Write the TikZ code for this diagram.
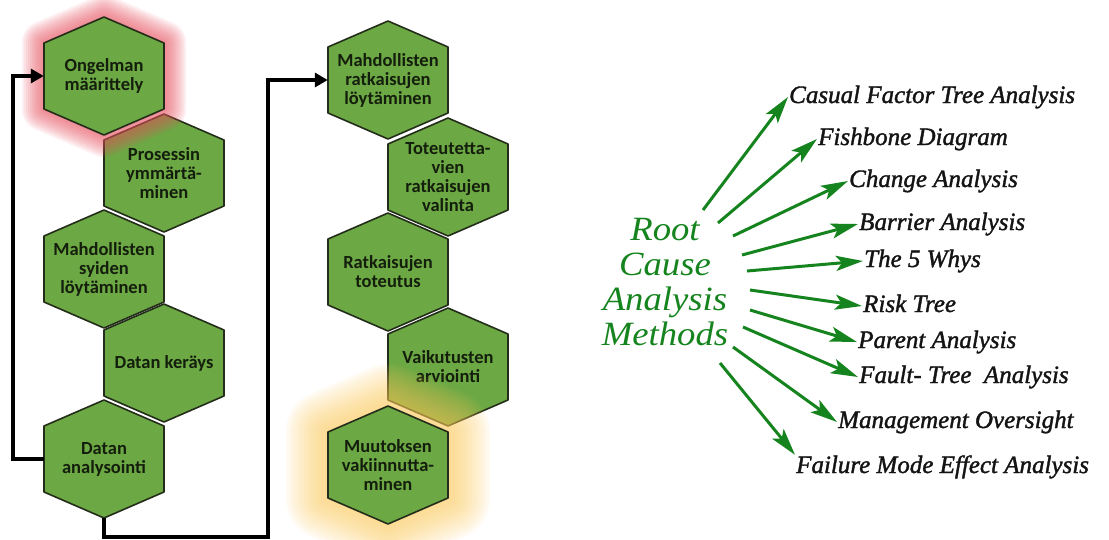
\documentclass[tikz,border=0pt]{standalone}
\usepackage{fontspec}
\usepackage{tikz}
\usetikzlibrary{arrows.meta}

\newfontfamily\cellfont{Carlito}
\newfontfamily\rcafont{Liberation Serif}[FakeStretch=1.08]
\newfontfamily\methodfont{Liberation Serif}[FakeBold=1.5]

\definecolor{cellgreen}{RGB}{108,168,68}
\definecolor{celledge}{RGB}{35,45,25}
\definecolor{celltext}{RGB}{20,30,12}
\definecolor{rcagreen}{RGB}{22,132,30}
\definecolor{methodtext}{RGB}{20,20,20}
\definecolor{glowred}{RGB}{230,80,95}
\definecolor{glowyellow}{RGB}{250,200,90}

\newcommand{\hexcell}[3]{%
	\filldraw[cellhex, shift={(#2)}] (0,-59) -- (60,-33) -- (60,33) -- (0,59) -- (-60,33) -- (-60,-33) -- cycle;
	\node[cell] (#1) at (#2) {#3};}
\newcommand{\hexglow}[5]{%
	\foreach \k in {1,...,#3}
		\draw[draw=#2, opacity=#5, line join=round, line width={\k*#4pt}, shift={(#1)}] (0,-59) -- (60,-33) -- (60,33) -- (0,59) -- (-60,33) -- (-60,-33) -- cycle;}

\begin{document}
\begin{tikzpicture}
			[x=1pt, y=-1pt,
			cellhex/.style = {fill=cellgreen, draw=celledge, line width=1.6pt, line join=round},
			cell/.style = {minimum width=120pt, minimum height=118pt, inner sep=0pt, align=center, text=celltext, font=\cellfont\bfseries\fontsize{18.5}{19}\selectfont},
			flow/.style = {line width=4pt, -{Triangle[length=13pt,width=14pt]}},
			rca/.style = {inner sep=0pt, align=center, text=rcagreen, font=\rcafont\itshape\fontsize{34}{35}\selectfont},
			method/.style = {anchor=base west, inner sep=1pt, text height=17pt, text depth=5pt, text=methodtext, font=\methodfont\itshape\fontsize{25}{30}\selectfont},
			fan/.style = {draw=rcagreen, line width=3pt, -{Stealth[length=27pt,width=15pt,inset=6pt]}}]
			\useasboundingbox (0,0) rectangle (1109,539);
			\hexcell{2}{164,173}{Prosessin\\ymmärtä-\\minen}
			\hexcell{3}{104,269}{Mahdollisten\\syiden\\löytäminen}
			\hexcell{4}{164,363}{Datan keräys}
			\hexcell{5}{104,459}{Datan\\analysointi}
			\hexcell{6}{388,80}{Mahdollisten\\ratkaisujen\\löytäminen}
			\hexcell{7}{448,177}{Toteutetta-\\vien\\ratkaisujen\\valinta}
			\hexcell{8}{388,272}{Ratkaisujen\\toteutus}
			\hexcell{9}{448,367}{Vaikutusten\\arviointi}
			\hexglow{104,76}{glowred}{11}{4}{0.09}
			\hexcell{1}{104,76}{Ongelman\\määrittely}
			\hexglow{388,465}{glowyellow}{14}{6}{0.07}
			\hexcell{10}{388,465}{Muutoksen\\vakiinnutta-\\minen}
			\coordinate (lp) at (13,0);
			\coordinate (bt) at (268,537);
			\draw[flow] (5.west) -- (5.west -| lp) |- (1.west);
			\draw[flow] (5.south) |- (bt) |- (6.west);
			\node[rca] (rca) at (665,282) {Root\\Cause\\Analysis\\Methods};
			\node[method] (11) at (788,103) {Casual Factor Tree Analysis};
			\node[method] (12) at (817,145) {Fishbone Diagram};
			\node[method] (13) at (848,187) {Change Analysis};
			\node[method] (14) at (858,230) {Barrier Analysis};
			\node[method] (15) at (863,267) {The 5 Whys};
			\node[method] (16) at (862,312) {Risk Tree};
			\node[method] (17) at (857,348) {Parent Analysis};
			\node[method] (18) at (858,383) {Fault- Tree\ \ Analysis};
			\node[method] (19) at (837,428) {Management Oversight};
			\node[method] (20) at (795,473) {Failure Mode Effect Analysis};
			\coordinate (s1) at (703,210);
			\coordinate (s2) at (718,223);
			\coordinate (s3) at (733,236);
			\coordinate (s4) at (742,255);
			\coordinate (s5) at (747,271);
			\coordinate (s6) at (750,290);
			\coordinate (s7) at (750,310);
			\coordinate (s8) at (743,327);
			\coordinate (s9) at (733,347);
			\coordinate (s10) at (720,363);
			\draw[fan] (s1) -- (11.west);
			\draw[fan] (s2) -- (12.west);
			\draw[fan] (s3) -- (13.west);
			\draw[fan] (s4) -- (14.west);
			\draw[fan] (s5) -- (15.west);
			\draw[fan] (s6) -- (16.west);
			\draw[fan] (s7) -- (17.west);
			\draw[fan] (s8) -- (18.west);
			\draw[fan] (s9) -- (19.west);
			\draw[fan] (s10) -- (20.north west);
		\end{tikzpicture}
\end{document}
